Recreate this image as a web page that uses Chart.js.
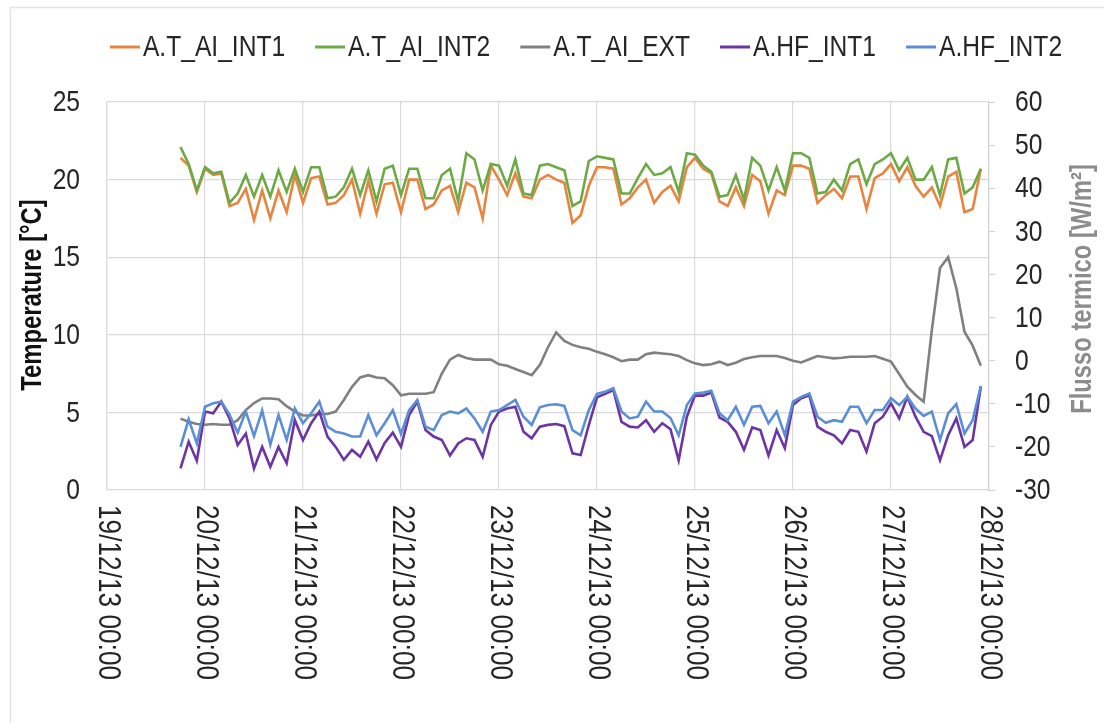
<!DOCTYPE html>
<html>
<head>
<meta charset="utf-8">
<script src="https://cdn.jsdelivr.net/npm/chart.js@4/dist/chart.umd.min.js"></script>
<style>
  html, body { margin: 0; padding: 0; background: #ffffff; }
  #wrap { width: 1104px; height: 723px; }
</style>
</head>
<body>
<div id="wrap"><canvas id="chart" width="1104" height="723"></canvas></div>
<script>
// Day ticks on the time axis (hours from 19/12/13 00:00)
const dayLabels = [
  '19/12/13 00:00', '20/12/13 00:00', '21/12/13 00:00', '22/12/13 00:00', '23/12/13 00:00',
  '24/12/13 00:00', '25/12/13 00:00', '26/12/13 00:00', '27/12/13 00:00', '28/12/13 00:00'
];

// Samples every 2 hours, first one at 19/12/13 18:00
const START_HOUR = 18;
const STEP_HOURS = 2;

const seriesNames = ['A.T_AI_INT1', 'A.T_AI_INT2', 'A.T_AI_EXT', 'A.HF_INT1', 'A.HF_INT2'];

// Indoor air temperature, sensor 1 [°C]
const tInt1 = [
  21.4, 20.9, 19.2, 20.7, 20.3, 20.4, 18.3, 18.5, 19.4, 17.4,
  19.3, 17.5, 19.3, 17.9, 20.3, 18.5, 20.1, 20.2, 18.4, 18.5,
  19.0, 20.0, 17.8, 19.9, 17.8, 19.7, 19.8, 17.9, 20.0, 20.0,
  18.1, 18.4, 19.3, 19.6, 17.9, 19.8, 19.5, 17.5, 20.9, 20.0,
  19.0, 20.4, 18.9, 18.8, 20.0, 20.3, 20.0, 19.8, 17.2, 17.7,
  19.6, 20.8, 20.8, 20.7, 18.4, 18.8, 19.5, 20.0, 18.5, 19.2,
  19.6, 18.6, 20.8, 21.4, 20.7, 20.4, 18.6, 18.3, 19.5, 18.3,
  20.3, 19.9, 17.8, 19.3, 19.0, 20.9, 20.9, 20.7, 18.5, 19.0,
  19.4, 18.8, 20.2, 20.2, 18.1, 20.1, 20.4, 21.0, 19.9, 20.8,
  19.6, 18.9, 19.5, 18.3, 20.2, 20.5, 17.9, 18.1, 20.7
];

// Indoor air temperature, sensor 2 [°C]
const tInt2 = [
  22.1, 21.0, 19.3, 20.8, 20.4, 20.5, 18.5, 19.1, 20.3, 18.9,
  20.3, 18.9, 20.6, 19.2, 20.7, 19.2, 20.8, 20.8, 18.8, 18.9,
  19.5, 20.7, 19.0, 20.6, 18.6, 20.7, 20.9, 19.0, 20.7, 20.7,
  18.8, 18.8, 20.3, 20.7, 18.6, 21.7, 21.3, 19.3, 21.0, 20.9,
  19.6, 21.3, 19.1, 19.0, 20.9, 21.0, 20.8, 20.6, 18.3, 18.6,
  21.2, 21.5, 21.4, 21.3, 19.1, 19.1, 20.1, 21.0, 20.3, 20.4,
  20.8, 19.2, 21.7, 21.6, 20.9, 20.5, 18.9, 19.0, 20.3, 18.7,
  21.4, 20.9, 19.3, 20.8, 19.3, 21.7, 21.7, 21.4, 19.1, 19.2,
  20.0, 19.3, 21.0, 21.3, 19.7, 21.0, 21.3, 21.7, 20.6, 21.4,
  20.0, 20.0, 20.8, 19.0, 21.3, 21.4, 19.1, 19.5, 20.7
];

// Outdoor air temperature [°C]
const tExt = [
  4.6, 4.4, 4.25, 4.2, 4.25, 4.2, 4.2, 4.5, 5.15, 5.6,
  5.9, 5.9, 5.85, 5.4, 5.05, 4.8, 4.8, 4.9, 4.9, 5.05,
  5.8, 6.65, 7.25, 7.4, 7.25, 7.2, 6.75, 6.1, 6.2, 6.2,
  6.2, 6.3, 7.5, 8.4, 8.7, 8.5, 8.4, 8.4, 8.4, 8.1,
  8.0, 7.8, 7.6, 7.4, 8.05, 9.2, 10.15, 9.6, 9.35, 9.2,
  9.1, 8.9, 8.75, 8.55, 8.3, 8.4, 8.4, 8.75, 8.85, 8.8,
  8.75, 8.63, 8.37, 8.16, 8.05, 8.1, 8.27, 8.05, 8.2, 8.44,
  8.55, 8.63, 8.63, 8.63, 8.5, 8.33, 8.22, 8.42, 8.63, 8.55,
  8.48, 8.52, 8.59, 8.59, 8.59, 8.63, 8.46, 8.27, 7.47, 6.66,
  6.12, 5.69, 10.3, 14.3, 15.0, 13.0, 10.2, 9.3, 8.0
];

// Heat flux, sensor 1 [W/m²]
const hfInt1 = [
  -25.0, -18.8, -23.2, -11.8, -12.2, -9.5, -13.4, -19.6, -16.9, -25.0,
  -20.0, -24.6, -20.0, -23.8, -13.8, -18.4, -14.5, -11.8, -17.6, -20.0,
  -23.0, -20.7, -22.3, -18.8, -22.9, -19.1, -16.7, -20.0, -12.6, -9.5,
  -16.1, -17.6, -18.4, -22.0, -19.2, -18.0, -18.4, -22.3, -14.9, -11.8,
  -11.1, -10.7, -16.5, -18.0, -15.3, -14.9, -14.7, -15.2, -21.5, -21.9,
  -14.9, -8.5, -7.7, -6.8, -14.2, -15.3, -15.5, -13.8, -16.5, -14.5,
  -15.9, -23.1, -13.0, -8.05, -8.1, -7.4, -13.2, -14.2, -16.5, -20.7,
  -15.5, -16.1, -22.0, -16.1, -20.3, -10.3, -8.7, -8.05, -15.3, -16.5,
  -17.3, -19.2, -16.1, -16.5, -21.1, -14.5, -13.0, -9.9, -13.4, -8.4,
  -13.0, -16.5, -17.5, -23.1, -17.3, -13.4, -20.0, -18.4, -6.0
];

// Heat flux, sensor 2 [W/m²]
const hfInt2 = [
  -20.0, -13.6, -19.2, -10.7, -9.9, -9.5, -12.5, -16.7, -11.8, -17.5,
  -11.6, -19.5, -12.6, -18.4, -11.1, -14.5, -12.2, -9.5, -15.3, -16.5,
  -16.9, -17.6, -17.6, -12.6, -17.3, -14.5, -11.5, -17.0, -11.5, -9.1,
  -15.3, -16.1, -12.6, -11.8, -12.2, -11.1, -13.4, -16.5, -11.8, -11.45,
  -10.3, -9.1, -13.0, -14.9, -10.8, -10.3, -10.1, -10.5, -16.1, -17.3,
  -11.45, -7.7, -7.2, -6.4, -11.8, -13.4, -13.0, -9.5, -11.8, -11.8,
  -13.3, -17.3, -10.3, -7.6, -7.4, -7.0, -12.2, -13.8, -10.7, -14.9,
  -10.7, -10.5, -14.5, -11.8, -17.3, -9.5, -8.4, -7.6, -13.0, -14.4,
  -13.8, -14.2, -10.7, -10.7, -14.5, -11.45, -11.45, -8.7, -10.3, -8.4,
  -11.1, -12.8, -11.8, -18.4, -12.2, -10.1, -16.9, -13.8, -5.9
];

const seriesColors = ['#E8843F', '#6BAA45', '#808080', '#6C35A3', '#5A8ED6'];

const FAMILY = '"Liberation Sans", Arial, sans-serif';
const NARROW = 0.82;          // horizontal squeeze giving a narrow face
const TEXT = '#262626';
const GRID = '#dadada';

function toPoints(values) {
  return values.map((v, i) => ({ x: START_HOUR + i * STEP_HOURS, y: v }));
}

function lineSet(k, values, axis) {
  return {
    label: seriesNames[k],
    data: toPoints(values),
    yAxisID: axis,
    borderColor: seriesColors[k],
    backgroundColor: seriesColors[k],
    borderWidth: 2.6,
    pointRadius: 0,
    tension: 0,
    order: 5 - k
  };
}

// Narrow text: drawn with a horizontal squeeze, optionally rotated
function narrowText(ctx, text, x, y, o) {
  ctx.save();
  ctx.translate(x, y);
  if (o.rotate) ctx.rotate(o.rotate);
  ctx.scale(NARROW, 1);
  ctx.font = (o.bold ? 'bold ' : '') + o.size + 'px ' + FAMILY;
  ctx.fillStyle = o.color || TEXT;
  ctx.textAlign = o.align || 'left';
  ctx.textBaseline = o.baseline || 'middle';
  ctx.fillText(text, 0, 0);
  ctx.restore();
}

function narrowWidth(ctx, text, size) {
  ctx.save();
  ctx.font = size + 'px ' + FAMILY;
  const w = ctx.measureText(text).width * NARROW;
  ctx.restore();
  return w;
}

// Outer frame, legend row, tick labels and axis titles
const decorations = {
  id: 'decorations',
  beforeDraw(chart) {
    const ctx = chart.ctx;
    ctx.save();
    ctx.fillStyle = '#ffffff';
    ctx.fillRect(0, 0, chart.width, chart.height);
    ctx.strokeStyle = '#e4e4e4';
    ctx.lineWidth = 1.5;
    ctx.beginPath();
    ctx.moveTo(10.5, chart.height);
    ctx.lineTo(10.5, 7.5);
    ctx.lineTo(chart.width, 7.5);
    ctx.stroke();
    ctx.restore();
  },
  afterDraw(chart) {
    const ctx = chart.ctx;
    const area = chart.chartArea;
    const FS = 30;

    // legend
    const lineLen = 30, textGap = 3, itemGap = 30, legendY = 47;
    const items = chart.data.datasets.map(ds => ({
      text: ds.label, color: ds.borderColor, w: narrowWidth(ctx, ds.label, FS)
    }));
    const total = items.reduce((s, it) => s + lineLen + textGap + it.w, 0) + itemGap * (items.length - 1);
    let x = 586 - total / 2;
    items.forEach(it => {
      ctx.save();
      ctx.strokeStyle = it.color;
      ctx.lineWidth = 3;
      ctx.beginPath();
      ctx.moveTo(x, legendY);
      ctx.lineTo(x + lineLen, legendY);
      ctx.stroke();
      ctx.restore();
      narrowText(ctx, it.text, x + lineLen + textGap, legendY + 1, { size: FS });
      x += lineLen + textGap + it.w + itemGap;
    });

    // left axis values
    const yl = chart.scales.y;
    yl.ticks.forEach(t => {
      narrowText(ctx, String(t.value), area.left - 27, yl.getPixelForValue(t.value) + 1,
        { size: FS, align: 'right' });
    });

    // right axis values
    const yr = chart.scales.y1;
    yr.ticks.forEach(t => {
      narrowText(ctx, String(t.value), area.right + 26, yr.getPixelForValue(t.value) + 1,
        { size: FS, align: 'left' });
    });

    // day labels, turned to read downwards
    const xs = chart.scales.x;
    xs.ticks.forEach((t, k) => {
      narrowText(ctx, dayLabels[k], xs.getPixelForValue(t.value) + 1, area.bottom + 15,
        { size: 32, rotate: Math.PI / 2, align: 'left' });
    });

    // axis titles
    narrowText(ctx, 'Temperature [°C]', 33, 295,
      { size: 29, bold: true, rotate: -Math.PI / 2, align: 'center', color: '#111111' });
    narrowText(ctx, 'Flusso termico [W/m²]', 1083, 289,
      { size: 29, bold: true, rotate: -Math.PI / 2, align: 'center', color: '#8c8c8c' });
  }
};

new Chart(document.getElementById('chart'), {
  type: 'line',
  data: {
    datasets: [
      lineSet(0, tInt1, 'y'),
      lineSet(1, tInt2, 'y'),
      lineSet(2, tExt, 'y'),
      lineSet(3, hfInt1, 'y1'),
      lineSet(4, hfInt2, 'y1')
    ]
  },
  options: {
    responsive: false,
    animation: false,
    events: [],
    layout: { padding: { top: 102, left: 0, right: 0, bottom: 0 } },
    plugins: { legend: { display: false }, tooltip: { enabled: false } },
    scales: {
      x: {
        type: 'linear',
        min: 0,
        max: 216,
        ticks: { stepSize: 24, display: false },
        grid: { color: GRID, lineWidth: 1.2, drawTicks: false },
        border: { display: false },
        afterFit(scale) { scale.height = 233; }
      },
      y: {
        position: 'left',
        min: 0,
        max: 25,
        ticks: { stepSize: 5, display: false },
        grid: { color: GRID, lineWidth: 1.2, drawTicks: false },
        border: { display: true, color: GRID, width: 1.2 },
        afterFit(scale) { scale.width = 107; }
      },
      y1: {
        position: 'right',
        min: -30,
        max: 60,
        ticks: { stepSize: 10, display: false },
        grid: { drawOnChartArea: false, drawTicks: true, tickLength: 6, color: '#cfcfcf' },
        border: { display: true, color: '#d4d4d4', width: 1.2 },
        afterFit(scale) { scale.width = 115; }
      }
    }
  },
  plugins: [decorations]
});
</script>
</body>
</html>
